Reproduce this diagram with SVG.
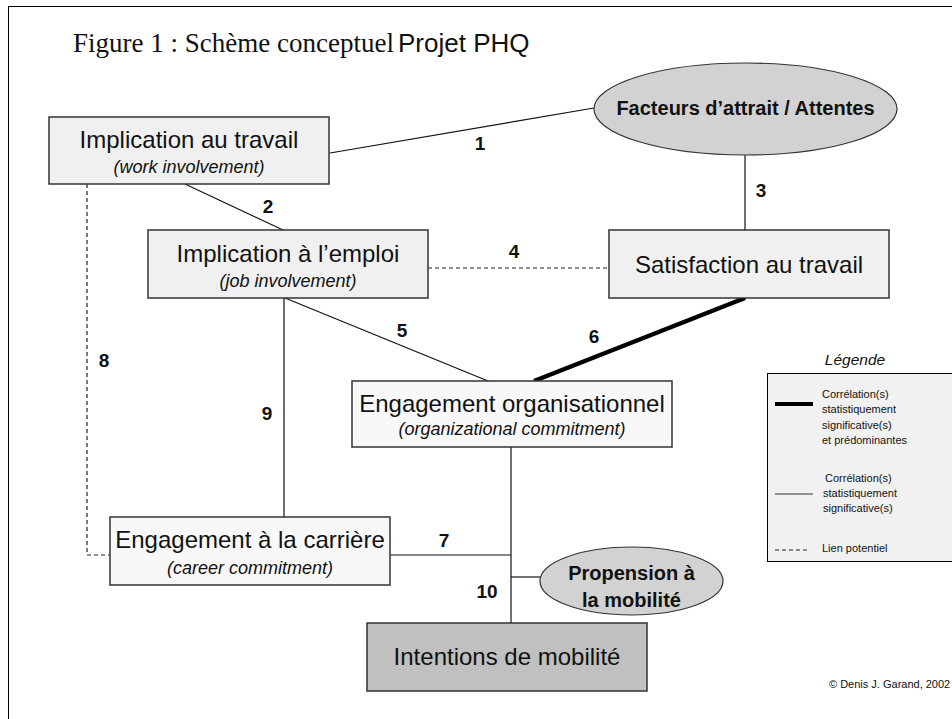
<svg xmlns="http://www.w3.org/2000/svg" width="952" height="719" viewBox="0 0 952 719">
<style>
.box{stroke:#333;stroke-width:1.5}
.light{fill:#f0f0f0}
.white{fill:#f8f8f8}
.dark{fill:#c0c0c0}
.ell{fill:#d2d2d2;stroke:#333;stroke-width:1.2}
.main{font-family:"Liberation Sans",Arial,sans-serif;font-size:24px;fill:#111;text-anchor:middle}
.sub{font-family:"Liberation Sans",Arial,sans-serif;font-size:18px;font-style:italic;fill:#111;text-anchor:middle}
.bold{font-family:"Liberation Sans",Arial,sans-serif;font-size:20px;font-weight:bold;fill:#111;text-anchor:middle}
.num{font-family:"Liberation Sans",Arial,sans-serif;font-size:19px;font-weight:bold;fill:#111;text-anchor:middle}
.leg{font-family:"Liberation Sans",Arial,sans-serif;font-size:11px;fill:#111}
.c{stroke:#111;stroke-width:1.2;fill:none}
.dash{stroke:#222;stroke-width:1.2;fill:none;stroke-dasharray:4 3}
.thick{stroke:#000;stroke-width:4.5;fill:none}
</style>
<rect x="0" y="0" width="952" height="719" fill="#fff"/>
<rect x="8.5" y="6.5" width="1000" height="800" fill="none" stroke="#000" stroke-width="1"/>
<g id="title">
<text x="73" y="52" font-family="'Liberation Serif','Times New Roman',serif" font-size="27" fill="#111">Figure 1 : Schème conceptuel</text>
<text x="398" y="52" font-family="'Liberation Sans',Arial,sans-serif" font-size="26" fill="#111">Projet PHQ</text>
</g>
<g id="connectors">
<line class="c" x1="330" y1="153" x2="594" y2="108"/>
<line class="c" x1="185" y1="184" x2="283" y2="230"/>
<line class="c" x1="745" y1="155" x2="745" y2="230"/>
<line class="dash" x1="428" y1="268" x2="609" y2="268" stroke="#555"/>
<line class="c" x1="285" y1="298" x2="488" y2="381"/>
<line class="thick" x1="745" y1="298" x2="534" y2="381"/>
<line class="c" x1="390" y1="555" x2="511" y2="555"/>
<polyline class="dash" points="87,184 87,555 110,555"/>
<line class="c" x1="284" y1="298" x2="284" y2="517" stroke="#444"/>
<line class="c" x1="511" y1="447" x2="511" y2="623"/>
<line class="c" x1="511" y1="577" x2="541" y2="577"/>
<text class="num" x="480" y="150">1</text>
<text class="num" x="268" y="213">2</text>
<text class="num" x="761" y="197">3</text>
<text class="num" x="514" y="258">4</text>
<text class="num" x="402" y="337">5</text>
<text class="num" x="594" y="343">6</text>
<text class="num" x="444" y="547">7</text>
<text class="num" x="104" y="367">8</text>
<text class="num" x="267" y="420">9</text>
<text class="num" x="487" y="598">10</text>
</g>
<g id="work-involvement">
<rect class="box light" x="49" y="117" width="280" height="67"/>
<text class="main" x="189" y="148">Implication au travail</text>
<text class="sub" x="189" y="173">(work involvement)</text>
</g>
<g id="attrait">
<ellipse class="ell" cx="745.5" cy="109" rx="151.5" ry="46"/>
<text class="bold" x="745.5" y="115">Facteurs d’attrait / Attentes</text>
</g>
<g id="job-involvement">
<rect class="box light" x="148" y="230" width="280" height="68"/>
<text class="main" x="288" y="262">Implication à l’emploi</text>
<text class="sub" x="288" y="287">(job involvement)</text>
</g>
<g id="satisfaction">
<rect class="box light" x="609" y="230" width="280" height="68"/>
<text class="main" x="749" y="273">Satisfaction au travail</text>
</g>
<g id="org-commitment">
<rect class="box white" x="352" y="381" width="320" height="66"/>
<text class="main" x="512" y="412">Engagement organisationnel</text>
<text class="sub" x="512" y="435">(organizational commitment)</text>
</g>
<g id="career-commitment">
<rect class="box white" x="110" y="517" width="280" height="68"/>
<text class="main" x="250" y="548">Engagement à la carrière</text>
<text class="sub" x="250" y="574">(career commitment)</text>
</g>
<g id="propension">
<ellipse class="ell" cx="631.5" cy="581" rx="91.5" ry="34"/>
<text class="bold" x="631.5" y="580">Propension à</text>
<text class="bold" x="631.5" y="607">la mobilité</text>
</g>
<g id="intentions">
<rect class="box dark" x="367" y="623" width="280" height="68"/>
<text class="main" x="507" y="665">Intentions de mobilité</text>
</g>
<g id="legend">
<text x="855" y="365" font-family="'Liberation Sans',Arial,sans-serif" font-size="15.5" font-style="italic" fill="#111" text-anchor="middle">Légende</text>
<rect x="767.5" y="373.5" width="200" height="188" fill="#f1f1f1" stroke="#000" stroke-width="1"/>
<line x1="775" y1="404" x2="813" y2="404" stroke="#000" stroke-width="4"/>
<text class="leg" x="822" y="398">Corrélation(s)</text>
<text class="leg" x="822" y="413">statistiquement</text>
<text class="leg" x="822" y="429">significative(s)</text>
<text class="leg" x="822" y="444">et prédominantes</text>
<line x1="775" y1="494" x2="813" y2="494" stroke="#333" stroke-width="1.2"/>
<text class="leg" x="825" y="482">Corrélation(s)</text>
<text class="leg" x="823" y="497">statistiquement</text>
<text class="leg" x="823" y="512">significative(s)</text>
<line x1="775" y1="550" x2="810" y2="550" stroke="#222" stroke-width="1" stroke-dasharray="4 3"/>
<text class="leg" x="822" y="552">Lien potentiel</text>
</g>
<text x="829" y="688" font-family="'Liberation Sans',Arial,sans-serif" font-size="11" fill="#111">© Denis J. Garand, 2002</text>
</svg>
